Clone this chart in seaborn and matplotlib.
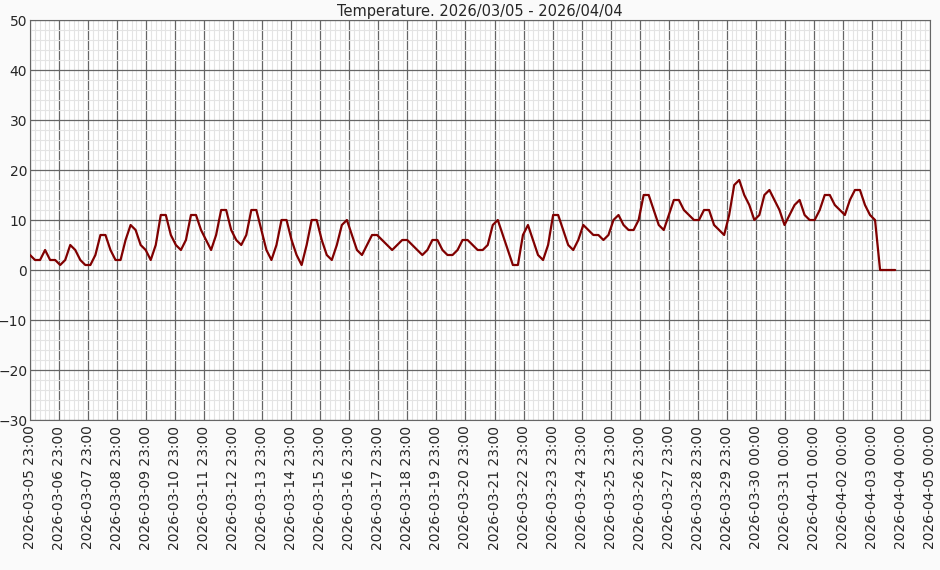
import numpy as np
import matplotlib
matplotlib.use("Agg")
import matplotlib.pyplot as plt
import seaborn as sns
from matplotlib.ticker import MultipleLocator, FixedLocator

# temperature readings, ~4 h apart, starting 2026-03-05 23:00
temps = [3, 2, 2, 4, 2, 2, 1, 2, 5, 4, 2, 1, 1, 3, 7, 7, 4, 2, 2, 6, 9, 8, 5, 4, 2, 5,
         11, 11, 7, 5, 4, 6, 11, 11, 8, 6, 4, 7, 12, 12, 8, 6, 5, 7, 12, 12, 8, 4, 2, 5,
         10, 10, 6, 3, 1, 5, 10, 10, 6, 3, 2, 5, 9, 10, 7, 4, 3, 5, 7, 7, 6, 5, 4, 5,
         6, 6, 5, 4, 3, 4, 6, 6, 4, 3, 3, 4, 6, 6, 5, 4, 4, 5, 9, 10, 7, 4, 1, 1, 7, 9,
         6, 3, 2, 5, 11, 11, 8, 5, 4, 6, 9, 8, 7, 7, 6, 7, 10, 11, 9, 8, 8, 10, 15, 15,
         12, 9, 8, 11, 14, 14, 12, 11, 10, 10, 12, 12, 9, 8, 7, 11, 17, 18, 15, 13, 10,
         11, 15, 16, 14, 12, 9, 11, 13, 14, 11, 10, 10, 12, 15, 15, 13, 12, 11, 14, 16,
         16, 13, 11, 10, 0, 0, 0, 0]
days = np.linspace(0, 29.8, len(temps))

tick_labels = [f"2026-03-{d:02d} 23:00" for d in range(5, 30)] + \
              ["2026-03-30 00:00", "2026-03-31 00:00"] + \
              [f"2026-04-{d:02d} 00:00" for d in range(1, 6)]

sns.set_style("white")
fig = plt.figure(figsize=(9.4, 5.7), dpi=100, facecolor="#fafafa")
ax = fig.add_axes([30 / 940, 150 / 570, 900 / 940, 400 / 570])

sns.lineplot(x=days, y=temps, ax=ax, color="#800000", linewidth=1.6, zorder=5)

ax.set_xlim(0, 31)
ax.set_ylim(-30, 50)
ax.set_xticks(range(len(tick_labels)))
ax.set_xticklabels(tick_labels, rotation=90, fontsize=10)
minor_x = [d + k / 6 for d in range(31) for k in range(1, 6)]
ax.xaxis.set_minor_locator(FixedLocator(minor_x))
ax.yaxis.set_major_locator(MultipleLocator(10))
ax.yaxis.set_minor_locator(FixedLocator([v for v in range(-30, 51, 2) if v % 10]))
ax.tick_params(axis="y", labelsize=10, length=0, pad=2)
ax.tick_params(axis="x", length=0, pad=4)
ax.grid(which="minor", color="#e4e4e4", linewidth=0.8, zorder=0)
ax.grid(which="major", color="#666666", linewidth=0.9, zorder=1)
ax.set_axisbelow(True)
for s in ax.spines.values():
    s.set_color("#666666")
ax.set_title("Temperature. 2026/03/05 - 2026/04/04", fontsize=10.5, pad=3)

fig.savefig("out.png", dpi=100, facecolor=fig.get_facecolor())
